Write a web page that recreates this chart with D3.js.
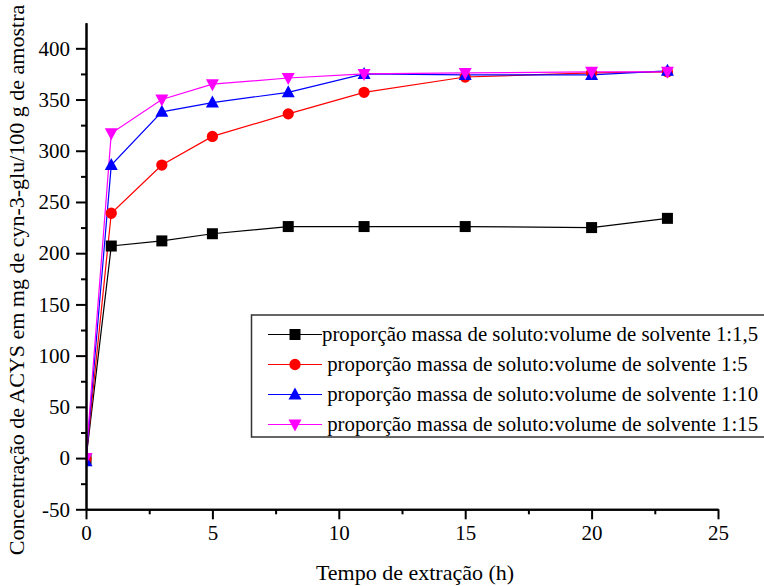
<!DOCTYPE html>
<html>
<head>
<meta charset="utf-8">
<script src="https://cdn.jsdelivr.net/npm/d3@7"></script>
<style>
  body { margin: 0; background: #fff; }
  svg { display: block; font-family: "Liberation Serif", "Times New Roman", serif; }
  .axis path, .axis line { stroke: #000; stroke-width: 2; }
</style>
</head>
<body>
<div id="chart"></div>
<script>
// extraction times (h)
var tempos = [0, 1, 3, 5, 8, 11, 15, 20, 23];

// ACYS concentration per ratio
var proporcao1_1_5 = [-1, 207, 212, 219, 226, 226, 226, 225, 234];
var proporcao1_5 = [-1, 239, 286, 314, 336, 357, 372, 376, 377];
var proporcao1_10 = [-3, 286, 338, 347, 357, 375, 374, 374, 378];
var proporcao1_15 = [0, 317, 350, 365, 371, 375, 376, 377, 377];

var legendLabels = [
    "proporção massa de soluto:volume de solvente 1:1,5",
    " proporção massa de soluto:volume de solvente 1:5",
    " proporção massa de soluto:volume de solvente 1:10",
    " proporção massa de soluto:volume de solvente 1:15"
];

var xTicks = [0, 5, 10, 15, 20, 25];
var yTicks = [-50, 0, 50, 100, 150, 200, 250, 300, 350, 400];

var series = [
    {values: proporcao1_1_5, color: "#000000", symbol: "square"},
    {values: proporcao1_5, color: "#ff0000", symbol: "circle"},
    {values: proporcao1_10, color: "#0000ff", symbol: "up"},
    {values: proporcao1_15, color: "#ff00ff", symbol: "down"}
];

var width = 764, height = 586;

var svg = d3.select("#chart").append("svg")
    .attr("width", width)
    .attr("height", height);

var x = d3.scaleLinear().domain([0, 25]).range([86, 718]);
var y = d3.scaleLinear().domain([-50, 425]).range([509.3, 22.7]);

// clip the plot area like the original (markers at t=0 are cut by the axis)
svg.append("clipPath").attr("id", "plotClip")
    .append("rect")
    .attr("x", x(0)).attr("y", 0)
    .attr("width", x(25) - x(0) + 20).attr("height", y(-50));

/**
 * marker path for a symbol name
 */
var markerPath = function(symbol){
    switch(symbol){
        case "square": return d3.symbol().type(d3.symbolSquare).size(121)();
        case "circle": return d3.symbol().type(d3.symbolCircle).size(100)();
        case "up": return "M0,-7L6.5,5L-6.5,5Z";
        case "down": return "M0,7L6.5,-5L-6.5,-5Z";
    }
};

var plot = svg.append("g").attr("clip-path", "url(#plotClip)");

var line = d3.line()
    .x(function(d){ return x(d[0]); })
    .y(function(d){ return y(d[1]); });

series.forEach(function(s){
    var pts = tempos.map(function(t, i){ return [t, s.values[i]]; });
    plot.append("path")
        .datum(pts)
        .attr("d", line)
        .attr("fill", "none")
        .attr("stroke", s.color)
        .attr("stroke-width", 1.2);
});

series.forEach(function(s){
    var pts = tempos.map(function(t, i){ return [t, s.values[i]]; });
    plot.selectAll(null).data(pts).enter().append("path")
        .attr("d", markerPath(s.symbol))
        .attr("transform", function(d){ return "translate(" + x(d[0]) + "," + y(d[1]) + ")"; })
        .attr("fill", s.color);
});

// minor ticks
svg.append("g").attr("class", "axis")
    .attr("transform", "translate(" + x(0) + ",0)")
    .call(d3.axisLeft(y).tickValues(d3.range(-25, 425, 50)).tickSize(5).tickSizeOuter(0).tickFormat(""));
svg.append("g").attr("class", "axis")
    .attr("transform", "translate(0," + y(-50) + ")")
    .call(d3.axisBottom(x).tickValues(d3.range(2.5, 25, 5)).tickSize(5).tickSizeOuter(0).tickFormat(""));

// major ticks
var yAxisGroup = svg.append("g").attr("class", "axis")
    .attr("transform", "translate(" + x(0) + ",0)")
    .call(d3.axisLeft(y).tickValues(yTicks).tickSize(10).tickSizeOuter(0).tickPadding(6).tickFormat(String));
var xAxisGroup = svg.append("g").attr("class", "axis")
    .attr("transform", "translate(0," + y(-50) + ")")
    .call(d3.axisBottom(x).tickValues(xTicks).tickSize(10).tickSizeOuter(0).tickPadding(6).tickFormat(String));

[yAxisGroup, xAxisGroup].forEach(function(g){
    g.attr("font-family", null).attr("font-size", null);
    g.selectAll("text")
        .style("font-family", "'Liberation Serif', serif")
        .style("font-size", "21px")
        .style("fill", "#000");
});

// axis titles
svg.append("text")
    .attr("transform", "translate(24,280) rotate(-90)")
    .attr("text-anchor", "middle")
    .style("font-size", "22px")
    .text("Concentração de ACYS em mg de cyn-3-glu/100 g de amostra");

svg.append("text")
    .attr("x", 415)
    .attr("y", 580)
    .attr("text-anchor", "middle")
    .style("font-size", "22px")
    .text("Tempo de extração (h)");

// legend
var legend = svg.append("g");
legend.append("rect")
    .attr("x", 251.5).attr("y", 315)
    .attr("width", 530).attr("height", 122)
    .attr("fill", "#fff")
    .attr("stroke", "#333")
    .attr("stroke-width", 1.5);

series.forEach(function(s, i){
    var cy = 334.5 + i * 30;
    legend.append("line")
        .attr("x1", 268).attr("x2", 322)
        .attr("y1", cy).attr("y2", cy)
        .attr("stroke", s.color).attr("stroke-width", 1.2);
    legend.append("path")
        .attr("d", markerPath(s.symbol))
        .attr("transform", "translate(295," + cy + ")")
        .attr("fill", s.color);
    legend.append("text")
        .attr("x", 322).attr("y", cy).attr("dy", "0.33em")
        .style("font-size", "20.8px")
        .style("white-space", "pre")
        .text(legendLabels[i]);
});
</script>
</body>
</html>
